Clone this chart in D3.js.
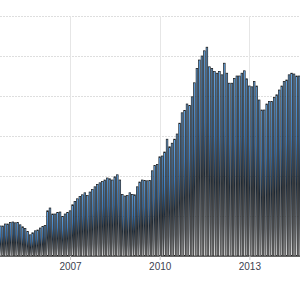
<!DOCTYPE html>
<html>
<head>
<meta charset="utf-8">
<script src="https://cdn.jsdelivr.net/npm/d3@7"></script>
<style>
  html, body { margin: 0; padding: 0; background: #fff; }
  svg { display: block; }
</style>
</head>
<body>
<svg id="chart" width="300" height="282"></svg>
<script>
// monthly values, Sep 2004 .. Sep 2014
const firstMonth = new Date(2004, 8, 1);
const values = [
  7.5, 7.5, 8.0, 8.0, 8.4, 8.5, 8.3, 8.4, 7.8, 7.3,
  6.9, 6.1, 5.3, 5.8, 6.3, 6.5, 7.0, 7.4, 7.6, 11.3,
  12.0, 10.5, 10.5, 10.9, 11.0, 9.9, 10.5, 10.9, 11.3, 12.8,
  13.6, 14.3, 14.9, 15.3, 15.8, 15.1, 16.0, 16.6, 17.3, 17.9,
  18.3, 18.6, 19.0, 19.5, 19.3, 19.0, 19.8, 20.3, 19.0, 15.4,
  15.0, 15.1, 15.8, 15.4, 15.3, 17.3, 18.5, 19.0, 18.9, 18.8,
  18.9, 21.3, 22.6, 22.9, 24.8, 25.0, 26.0, 29.2, 27.3, 28.2,
  29.2, 30.5, 33.2, 35.8, 36.4, 38.0, 37.6, 39.8, 43.3, 46.9,
  49.0, 50.0, 51.3, 52.2, 47.3, 46.9, 46.1, 45.7, 46.1, 45.3,
  48.2, 45.7, 43.2, 43.2, 44.4, 45.0, 45.0, 45.7, 46.3, 44.3,
  42.5, 42.3, 43.6, 42.5, 39.0, 36.5, 36.5, 38.0, 38.6, 38.6,
  39.6, 40.3, 41.5, 42.5, 43.6, 44.0, 45.3, 45.7, 45.5, 45.0,
  45.0
];
const yearTicks = [2007, 2010, 2013];
const gridValues = [10, 20, 30, 40, 50, 60];

const months = values.map((v, i) => d3.timeMonth.offset(firstMonth, i));
const data = months.map((m, i) => ({ date: m, value: values[i] }));

const width = 300;
const height = 282;
const svg = d3.select('#chart');

const x = d3.scaleTime()
  .domain([new Date(2004, 7, 28), new Date(2014, 8, 12)])
  .range([0, width]);
const y = d3.scaleLinear()
  .domain([0, 60])
  .range([256, 16]);

const step = x(new Date(2010, 0, 1)) - x(new Date(2009, 11, 1));
const barW = step - 0.9;

// bar gradient: blue top, dark middle, pale bottom
const defs = svg.append('defs');
const grad = defs.append('linearGradient')
  .attr('id', 'barGrad')
  .attr('x1', 0).attr('y1', 0).attr('x2', 0).attr('y2', 1);
[
  [0, '#6cb2f5'],
  [0.35, '#3f82c8'],
  [0.6, '#1f3042'],
  [0.82, '#7c838b'],
  [1, '#f6f6f6']
].forEach(([o, c]) => grad.append('stop').attr('offset', o).attr('stop-color', c));

// grid
svg.append('g')
  .selectAll('line')
  .data(gridValues)
  .join('line')
  .attr('x1', 0).attr('x2', width)
  .attr('y1', d => y(d) + 0.5).attr('y2', d => y(d) + 0.5)
  .attr('stroke', '#dedede')
  .attr('stroke-dasharray', '2,1');

const tickDates = yearTicks.map(yr => new Date(yr, 0, 1));
svg.append('g')
  .selectAll('line')
  .data(tickDates)
  .join('line')
  .attr('x1', d => Math.round(x(d)) + 0.5).attr('x2', d => Math.round(x(d)) + 0.5)
  .attr('y1', y(60)).attr('y2', y(0))
  .attr('stroke', '#e6e6e6');

// bars
svg.append('g')
  .selectAll('rect')
  .data(data)
  .join('rect')
  .attr('x', d => x(d.date) - barW / 2)
  .attr('y', d => y(d.value))
  .attr('width', barW)
  .attr('height', d => y(0) - y(d.value))
  .attr('fill', 'url(#barGrad)')
  .attr('stroke', '#1a1a1a')
  .attr('stroke-width', 0.7);

// x axis
const xAxis = svg.append('g')
  .attr('transform', `translate(0,${y(0)})`)
  .call(d3.axisBottom(x)
    .tickValues(tickDates)
    .tickFormat(d3.timeFormat('%Y'))
    .tickSize(4)
    .tickPadding(3));
xAxis.select('.domain').attr('stroke', '#666').attr('d', `M0,0.5H${width}`);
xAxis.selectAll('.tick line').attr('stroke', '#ccc');
xAxis.selectAll('.tick text')
  .attr('fill', '#3c4250')
  .attr('font-size', 10)
  .attr('font-family', 'Liberation Sans, Arial, sans-serif');
</script>
</body>
</html>
